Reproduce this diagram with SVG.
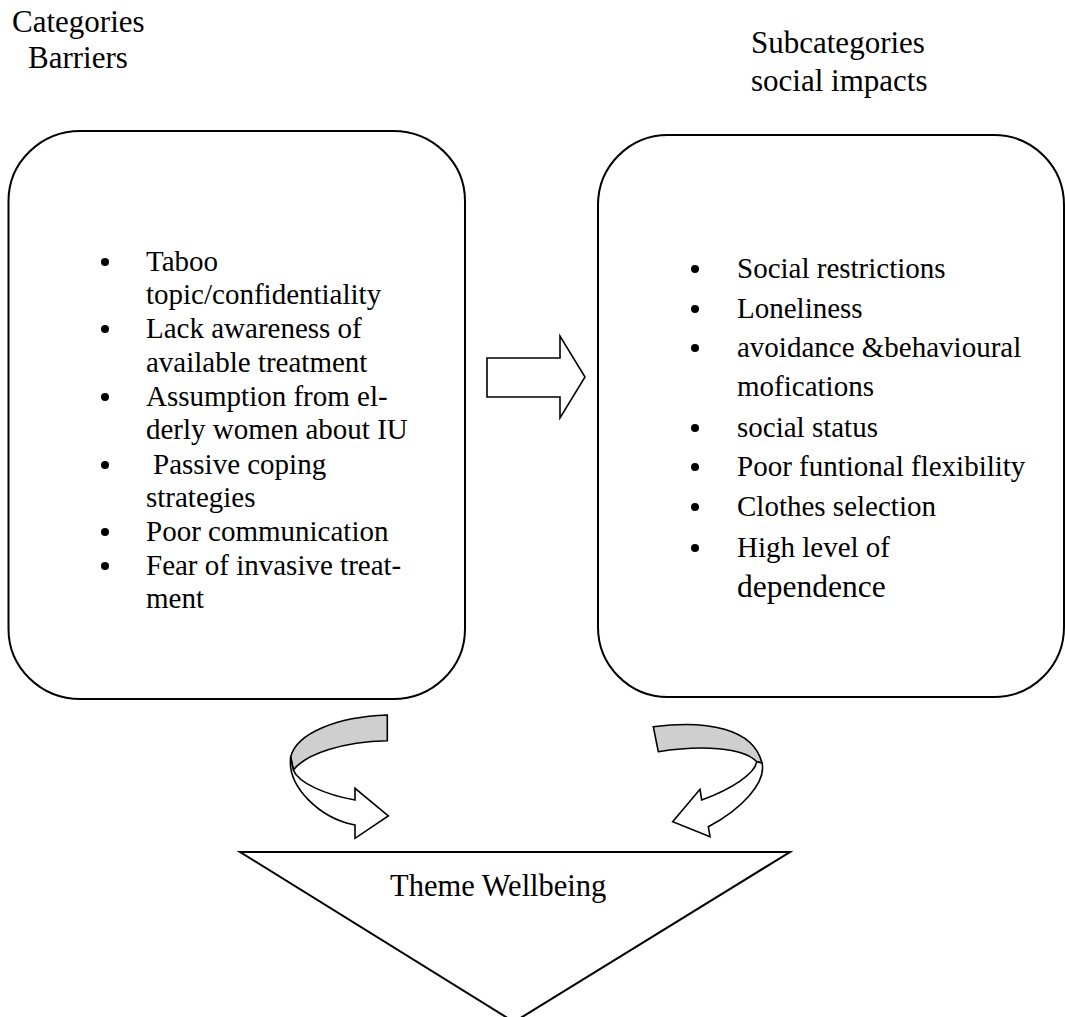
<svg xmlns="http://www.w3.org/2000/svg" width="1065" height="1017" viewBox="0 0 1065 1017">
<style>
text{font-family:"Liberation Serif","Times New Roman",serif;fill:#000}
.t{font-size:29px}
.h{font-size:31px}
.box{fill:#fff;stroke:#000;stroke-width:2}
.ar{fill:#fff;stroke:#000;stroke-width:1.6;stroke-linejoin:miter}
.gr{fill:#cfcfcf;stroke:#000;stroke-width:1.6}
.b{fill:#000}
</style>
<rect width="1065" height="1017" fill="#fff"/>
<g id="header-left">
<text class="h" x="12" y="32">Categories</text>
<text class="h" x="28" y="68">Barriers</text>
</g>
<g id="header-right">
<text class="h" x="751" y="53">Subcategories</text>
<text class="h" x="751" y="91">social impacts</text>
</g>
<g id="barriers">
<rect class="box" x="8.5" y="131" width="456.5" height="568" rx="72" ry="70"/>
<circle class="b" cx="105" cy="262" r="4"/>
<text class="t" x="146" y="271">Taboo</text>
<text class="t" x="146" y="304">topic/confidentiality</text>
<circle class="b" cx="105" cy="329" r="4"/>
<text class="t" x="146" y="338">Lack  awareness of</text>
<text class="t" x="146" y="372">available treatment</text>
<circle class="b" cx="105" cy="397" r="4"/>
<text class="t" x="146" y="406">Assumption from el-</text>
<text class="t" x="146" y="439">derly women about IU</text>
<circle class="b" cx="105" cy="465" r="4"/>
<text class="t" x="153" y="474">Passive coping</text>
<text class="t" x="146" y="507">strategies</text>
<circle class="b" cx="105" cy="532" r="4"/>
<text class="t" x="146" y="541">Poor communication</text>
<circle class="b" cx="105" cy="566" r="4"/>
<text class="t" x="146" y="575">Fear of invasive treat-</text>
<text class="t" x="146" y="608">ment</text>
</g>
<g id="social-impacts">
<rect class="box" x="598" y="135" width="466" height="562" rx="70" ry="70"/>
<circle class="b" cx="695" cy="269" r="4"/>
<text class="t" x="737" y="278">Social restrictions</text>
<circle class="b" cx="695" cy="309" r="4"/>
<text class="t" x="737" y="318">Loneliness</text>
<circle class="b" cx="695" cy="348" r="4"/>
<text class="t" x="737" y="357">avoidance &amp;behavioural</text>
<text class="t" x="737" y="396">mofications</text>
<circle class="b" cx="695" cy="428" r="4"/>
<text class="t" x="737" y="437">social status</text>
<circle class="b" cx="695" cy="467" r="4"/>
<text class="t" x="737" y="476">Poor funtional flexibility</text>
<circle class="b" cx="695" cy="507" r="4"/>
<text class="t" x="737" y="516">Clothes selection</text>
<circle class="b" cx="695" cy="548" r="4"/>
<text class="t" x="737" y="557">High level of</text>
<text x="737" y="597" style="font-size:31.5px">dependence</text>
</g>
<g id="theme-wellbeing">
<path class="box" d="M240,852 L790,852 L514,1022 Z"/>
<text x="390" y="896" style="font-size:30.5px">Theme Wellbeing</text>
</g>
<g id="connectors">
<path class="ar" d="M487,358 L560,358 L560,336 L585,377 L560,418 L560,397 L487,397 Z"/>
<path class="gr" d="M387.3,715 C336.7,716.7 296.7,733.3 290.7,756.7 L293.3,770 C306.7,753.3 343.3,741.7 387.3,740.7 Z"/>
<path class="ar" d="M290.7,756.7 C286.7,786.7 320,818.3 355,825 L355,838.3 L388.3,816 L355,788.3 L355,800 C326.7,795 298.3,783.3 293.3,770 Z"/>
<path class="gr" d="M653.3,726.7 C706.7,720 753.3,728 762,763 L756.7,761.7 C743.3,747 700,745 658.3,751.7 Z"/>
<path class="ar" d="M762,763 C766.7,783.3 740,810 708.3,826.7 L710,836.7 L672.7,821.7 L700,789.3 L701.7,800 C733.3,788.3 755,773.3 756.7,761.7 Z"/>
</g>
</svg>
